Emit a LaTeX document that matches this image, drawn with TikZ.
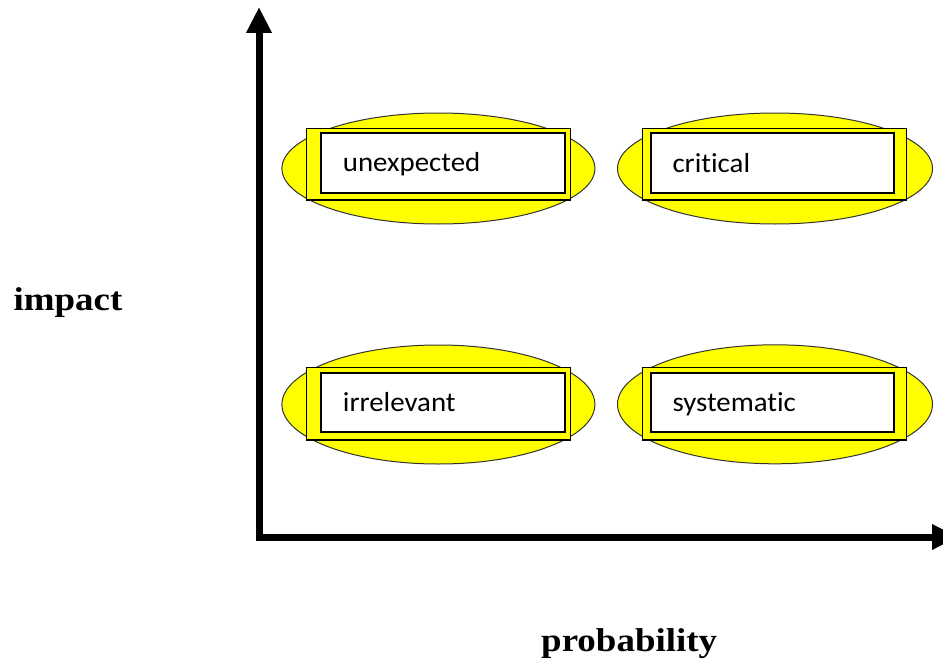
\documentclass[tikz,border=0pt]{standalone}
\usepackage{fontspec}
\setmainfont{Liberation Serif}
\newfontfamily\boxfont[FakeStretch=1.05,RawFeature={-liga;-clig;-dlig}]{Carlito}
\newfontfamily\axisfont[FakeStretch=1.12]{Liberation Serif Bold}
\usetikzlibrary{shapes.geometric,arrows.meta}
\definecolor{hiyellow}{RGB}{255,255,0}
\begin{document}
\begin{tikzpicture}[x=1pt,y=-1pt,
  blob/.style={ellipse,draw=black!80,line width=1pt,fill=hiyellow,inner sep=0pt},
  outerbox/.style={rectangle,draw=black,line width=1.3pt,fill=hiyellow,inner sep=0pt},
  innerbox/.style={rectangle,draw=black,line width=2pt,fill=white,inner sep=0pt},
  lbl/.style={font=\boxfont\fontsize{27.5}{30}\selectfont,inner sep=0pt,anchor=base west},
  axislbl/.style={font=\axisfont\fontsize{33}{36}\selectfont,inner sep=0pt,anchor=base west},
  axis/.style={line width=7pt,line join=miter,
    {Triangle[length=26pt,width=24pt]}-{Triangle[length=26pt,width=24pt]}}]
\useasboundingbox (0,0) rectangle (943,661);
\clip (0,0) rectangle (943,661);
% upper left
\node[blob,minimum width=313pt,minimum height=111pt] (e1) at (438.4,168.5) {};
\node[outerbox,minimum width=264pt,minimum height=71.7pt] (o1) at (438.2,164.2) {};
\node[innerbox,minimum width=243.7pt,minimum height=59.5pt] (i1) at (442.85,162.75) {};
\node[lbl] (t1) at (342.7,171.7) {unexpected};
% upper right
\node[blob,minimum width=315pt,minimum height=111pt] (e2) at (775,168.5) {};
\node[outerbox,minimum width=264.4pt,minimum height=71.7pt] (o2) at (774.5,164.2) {};
\node[innerbox,minimum width=243.3pt,minimum height=59.5pt] (i2) at (772.65,162.75) {};
\node[lbl] (t2) at (672.3,172.3) {critical};
% lower left
\node[blob,minimum width=313pt,minimum height=119pt] (e3) at (438.4,404.5) {};
\node[outerbox,minimum width=264pt,minimum height=72.3pt] (o3) at (438.2,403.9) {};
\node[innerbox,minimum width=243.7pt,minimum height=59.6pt] (i3) at (442.85,402.5) {};
\node[lbl] (t3) at (342.7,411.7) {irrelevant};
% lower right
\node[blob,minimum width=315pt,minimum height=119pt] (e4) at (775,404.3) {};
\node[outerbox,minimum width=264.4pt,minimum height=72.3pt] (o4) at (774.5,403.9) {};
\node[innerbox,minimum width=243.3pt,minimum height=59.6pt] (i4) at (772.65,402.5) {};
\node[lbl] (t4) at (672.3,411.7) {systematic};
% axes
\coordinate (ytop) at (259,7);
\coordinate (xend) at (958,537);
\draw[axis] (ytop) |- (xend);
\node[axislbl] (impact) at (13.3,310) {impact};
\node[axislbl] (prob) at (541,651) {probability};
\end{tikzpicture}
\end{document}
